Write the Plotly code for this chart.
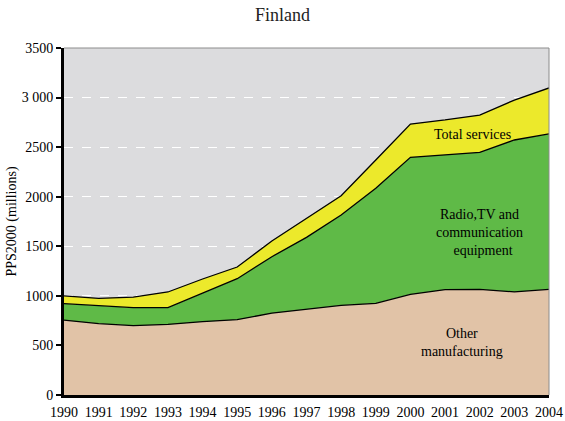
import plotly.graph_objects as go

years = list(range(1990, 2005))

# PPS2000 (millions), stacked from the bottom up
other_manufacturing = [755, 720, 700, 712, 740, 760, 825, 862, 905, 925, 1015, 1062, 1065, 1040, 1066]
radio_tv_comm = [166, 178, 181, 169, 285, 413, 570, 728, 911, 1160, 1382, 1359, 1383, 1532, 1567]
total_services = [78, 77, 107, 158, 145, 118, 158, 195, 194, 285, 336, 353, 376, 403, 464]

y_tick_vals = [0, 500, 1000, 1500, 2000, 2500, 3000, 3500]
y_tick_text = ["0", "500", "1000", "1500", "2000", "2500", "3 000", "3500"]

serif = "Liberation Serif, Times New Roman, serif"

fig = go.Figure()

series = [
    ("Other manufacturing", other_manufacturing, "#e1c3a7"),
    ("Radio,TV and communication equipment", radio_tv_comm, "#5fba47"),
    ("Total services", total_services, "#ece92b"),
]
for name, vals, color in series:
    fig.add_trace(go.Scatter(
        x=years, y=vals, name=name, mode="lines",
        stackgroup="one", fillcolor=color,
        line=dict(color="black", width=1.3),
        hoverinfo="x+y+name",
    ))

# text labels placed inside each band
labels = [
    (2001.8, 2625, "Total services"),
    (2002.0, 1640, "Radio,TV and<br>communication<br>  equipment"),
    (2001.5, 530, "Other<br>manufacturing"),
]
for x, y, txt in labels:
    fig.add_annotation(x=x, y=y, text=txt, showarrow=False,
                       font=dict(family=serif, size=14, color="black"),
                       align="center")

# thin grey frame on the top and right of the plot area
fig.add_shape(type="line", xref="paper", yref="paper", x0=0, x1=1, y0=1, y1=1,
              line=dict(color="#8c8c8c", width=1))
fig.add_shape(type="line", xref="paper", yref="paper", x0=1, x1=1, y0=0, y1=1,
              line=dict(color="#8c8c8c", width=1))

fig.update_layout(
    width=565, height=421,
    margin=dict(l=64, r=16, t=48, b=26, autoexpand=False),
    paper_bgcolor="white",
    plot_bgcolor="#dcdcde",
    showlegend=False,
    title=dict(text="Finland", x=0.5, xanchor="center", y=0.965, yanchor="middle",
               font=dict(family=serif, size=18, color="#222")),
    font=dict(family=serif, size=14, color="black"),
    xaxis=dict(
        range=[1990, 2004], tickmode="array", tickvals=years,
        showgrid=False, zeroline=False, automargin=False,
        showline=True, linecolor="black", linewidth=3,
        ticks="outside", ticklen=2, tickcolor="rgba(0,0,0,0)",
        tickfont=dict(family=serif, size=14),
    ),
    yaxis=dict(
        range=[0, 3500], tickmode="array", tickvals=y_tick_vals, ticktext=y_tick_text,
        showgrid=True, gridcolor="white", gridwidth=1, griddash="dash",
        zeroline=False, automargin=False,
        showline=True, linecolor="black", linewidth=3,
        ticks="outside", ticklen=5, tickwidth=2, tickcolor="black",
        tickfont=dict(family=serif, size=14),
        title=dict(text="PPS2000 (millions)", font=dict(family=serif, size=14), standoff=2),
    ),
)

fig.write_html("out.html")
